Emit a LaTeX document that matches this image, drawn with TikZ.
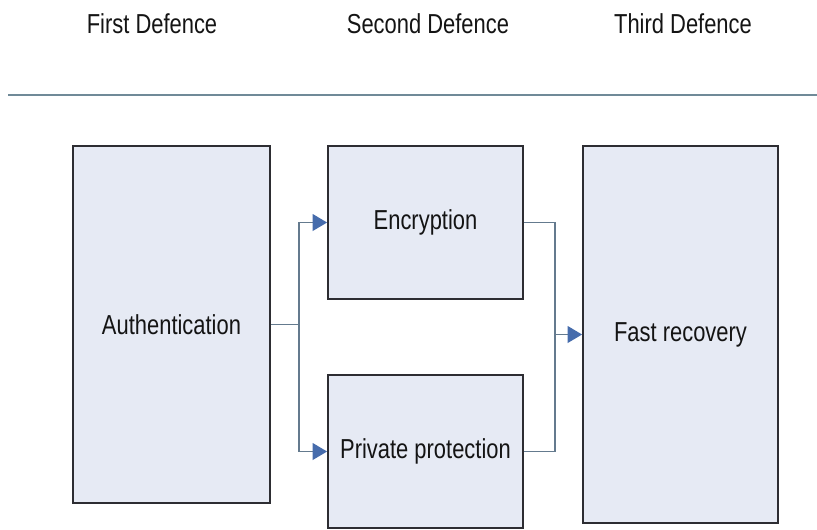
\documentclass[tikz,border=0pt]{standalone}
\usepackage{fontspec}
\newfontfamily\diagfont{Liberation Sans}[FakeStretch=0.8]
\usetikzlibrary{arrows.meta}
\definecolor{boxfill}{RGB}{230,234,244}
\definecolor{boxline}{RGB}{45,45,50}
\definecolor{linkline}{RGB}{100,122,142}
\definecolor{tipblue}{RGB}{70,108,172}
\definecolor{ruleline}{RGB}{112,138,152}

\begin{document}
\begin{tikzpicture}[x=0.025cm,y=-0.025cm,
  lbl/.style={font=\diagfont\fontsize{19.5}{22}\selectfont,text=black!92},
  box/.style={lbl,draw=boxline,fill=boxfill,line width=1.3pt,inner sep=0pt},
  link/.style={draw=linkline,line width=0.9pt},
  arr/.style={link,-{Triangle[length=0.36cm,width=0.42cm,color=tipblue]}}]
  % page size in pixels of the reference
  \useasboundingbox (0,0) rectangle (817,529);

  % headings and the rule under them
  \node[lbl,anchor=base] (first)  at (152,33) {First Defence};
  \node[lbl,anchor=base] (second) at (428,33) {Second Defence};
  \node[lbl,anchor=base] (third)  at (683,33) {Third Defence};
  \draw[ruleline,line width=1.4pt] (8,95) -- (817,95);

  % the four stages
  \node[box,minimum width=4.925cm,minimum height=8.925cm] (auth) at (171.5,324.5) {Authentication};
  \node[box,minimum width=4.875cm,minimum height=3.825cm] (enc)  at (425.5,222.5) {Encryption};
  \node[box,minimum width=4.875cm,minimum height=3.825cm] (priv) at (425.5,451.5) {Private protection};
  \node[box,minimum width=4.875cm,minimum height=9.425cm] (fast) at (680.5,334.5) {Fast recovery};

  % split after authentication
  \draw[link] (auth.east) -- (299,324.5) coordinate (split);
  \draw[arr] (split) |- (enc.west);
  \draw[arr] (split) |- (priv.west);

  % join before recovery
  \coordinate (join) at (555,334.5);
  \draw[link] (enc.east) -| (join) |- (priv.east);
  \draw[arr] (join) -- (fast.west);
\end{tikzpicture}
\end{document}
